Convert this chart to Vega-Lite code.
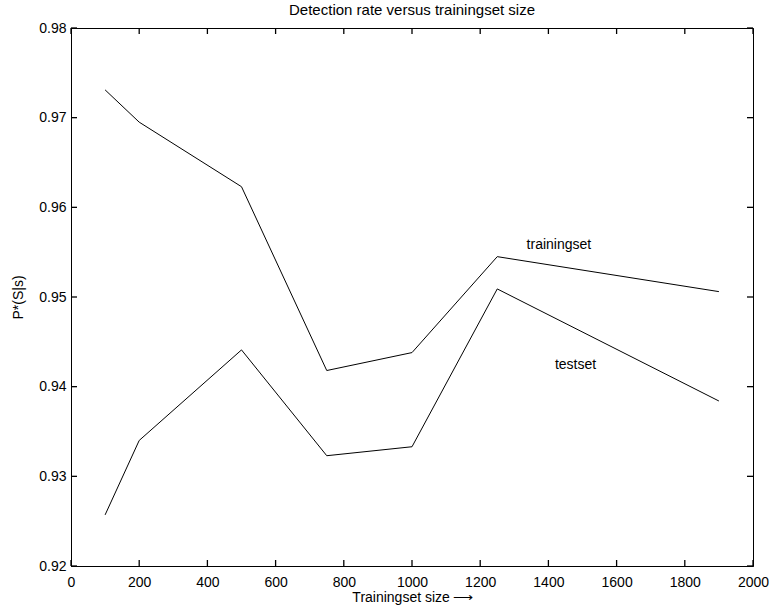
{
  "$schema": "https://vega.github.io/schema/vega-lite/v6.json",
  "width": 682,
  "height": 538,
  "autosize": {"type": "none"},
  "padding": {"left": 71, "top": 28, "right": 19, "bottom": 42},
  "background": "white",
  "title": {
    "text": "Detection rate versus trainingset size",
    "fontSize": 15,
    "fontWeight": "normal",
    "font": "Liberation Sans",
    "color": "black",
    "baseline": "bottom",
    "offset": 8,
    "dy": 20,
    "anchor": "middle",
    "frame": "group"
  },
  "datasets": {
    "xticks": [{"v": 0}, {"v": 200}, {"v": 400}, {"v": 600}, {"v": 800}, {"v": 1000}, {"v": 1200}, {"v": 1400}, {"v": 1600}, {"v": 1800}, {"v": 2000}],
    "yticks": [{"v": 0.92}, {"v": 0.93}, {"v": 0.94}, {"v": 0.95}, {"v": 0.96}, {"v": 0.97}, {"v": 0.98}]
  },
  "config": {
    "view": {"stroke": "black", "strokeWidth": 1},
    "font": "Liberation Sans",
    "axis": {
      "grid": false,
      "ticks": false,
      "domainColor": "black",
      "domainWidth": 1,
      "labelColor": "black",
      "titleColor": "black",
      "labelFontSize": 14,
      "titleFontSize": 14,
      "titleFontWeight": "normal",
      "labelFont": "Liberation Sans",
      "titleFont": "Liberation Sans"
    }
  },
  "layer": [
    {
      "data": {
        "values": [
          {"series": "trainingset", "size": 100, "rate": 0.9731},
          {"series": "trainingset", "size": 200, "rate": 0.9695},
          {"series": "trainingset", "size": 500, "rate": 0.9623},
          {"series": "trainingset", "size": 750, "rate": 0.9418},
          {"series": "trainingset", "size": 1000, "rate": 0.9438},
          {"series": "trainingset", "size": 1250, "rate": 0.9545},
          {"series": "trainingset", "size": 1900, "rate": 0.9506},
          {"series": "testset", "size": 100, "rate": 0.9257},
          {"series": "testset", "size": 200, "rate": 0.934},
          {"series": "testset", "size": 500, "rate": 0.9441},
          {"series": "testset", "size": 750, "rate": 0.9323},
          {"series": "testset", "size": 1000, "rate": 0.9333},
          {"series": "testset", "size": 1250, "rate": 0.9509},
          {"series": "testset", "size": 1900, "rate": 0.9384}
        ]
      },
      "mark": {"type": "line", "color": "black", "strokeWidth": 1},
      "encoding": {
        "x": {
          "field": "size",
          "type": "quantitative",
          "scale": {"domain": [0, 2000], "nice": false},
          "axis": {
            "orient": "bottom",
            "values": [0, 200, 400, 600, 800, 1000, 1200, 1400, 1600, 1800, 2000],
            "format": "d",
            "labelPadding": 9,
            "labelFlush": false,
            "labelOverlap": false,
            "title": "Trainingset size\u2009\u27f6",
            "titlePadding": 1
          }
        },
        "y": {
          "field": "rate",
          "type": "quantitative",
          "scale": {"domain": [0.92, 0.98], "nice": false, "zero": false},
          "axis": {
            "orient": "left",
            "values": [0.92, 0.93, 0.94, 0.95, 0.96, 0.97, 0.98],
            "format": ".2f",
            "labelPadding": 5,
            "labelFlush": false,
            "labelOverlap": false,
            "title": "P*(S|s)",
            "titlePadding": 13
          }
        },
        "detail": {"field": "series"}
      }
    },
    {
      "data": {
        "values": [
          {"label": "trainingset", "size": 1336, "rate": 0.9554},
          {"label": "testset", "size": 1419, "rate": 0.942}
        ]
      },
      "mark": {"type": "text", "align": "left", "baseline": "alphabetic", "fontSize": 14, "color": "black", "font": "Liberation Sans"},
      "encoding": {
        "x": {"field": "size", "type": "quantitative"},
        "y": {"field": "rate", "type": "quantitative"},
        "text": {"field": "label"}
      }
    },
    {
      "data": {"name": "xticks"},
      "mark": {"type": "tick", "orient": "vertical", "size": 6, "thickness": 1.3, "color": "black", "opacity": 1, "yOffset": 3},
      "encoding": {
        "x": {"field": "v", "type": "quantitative"},
        "y": {"datum": 0.98, "type": "quantitative"}
      }
    },
    {
      "data": {"name": "xticks"},
      "mark": {"type": "tick", "orient": "vertical", "size": 6, "thickness": 1.3, "color": "black", "opacity": 1, "yOffset": -3},
      "encoding": {
        "x": {"field": "v", "type": "quantitative"},
        "y": {"datum": 0.92, "type": "quantitative"}
      }
    },
    {
      "data": {"name": "yticks"},
      "mark": {"type": "tick", "orient": "horizontal", "size": 6, "thickness": 1.3, "color": "black", "opacity": 1, "xOffset": 3},
      "encoding": {
        "y": {"field": "v", "type": "quantitative"},
        "x": {"datum": 0, "type": "quantitative"}
      }
    },
    {
      "data": {"name": "yticks"},
      "mark": {"type": "tick", "orient": "horizontal", "size": 6, "thickness": 1.3, "color": "black", "opacity": 1, "xOffset": -3},
      "encoding": {
        "y": {"field": "v", "type": "quantitative"},
        "x": {"datum": 2000, "type": "quantitative"}
      }
    }
  ]
}
